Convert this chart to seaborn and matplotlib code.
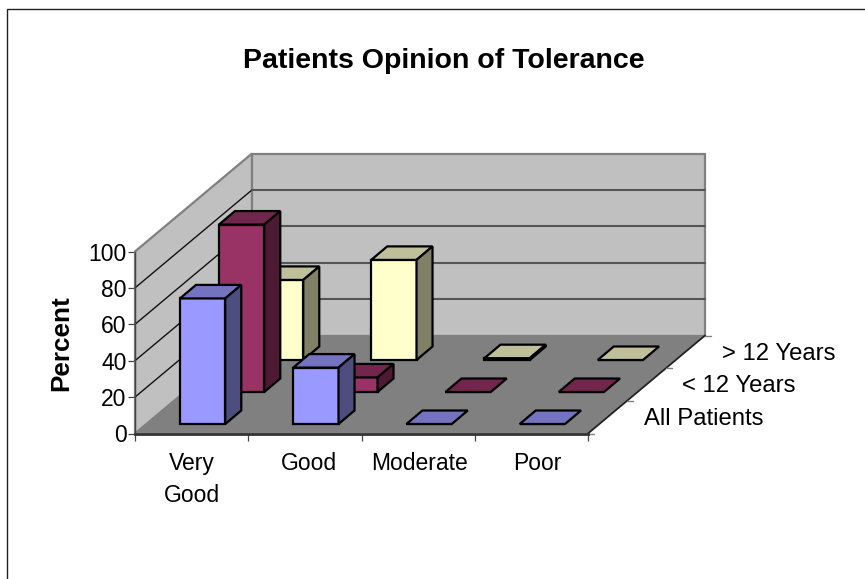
import matplotlib
matplotlib.use("Agg")
import matplotlib.pyplot as plt
from matplotlib.lines import Line2D
from matplotlib.patches import Polygon
import pandas as pd
import seaborn as sns

# values
categories = ["Very\nGood", "Good", "Moderate", "Poor"]
series_names = ["All Patients", "< 12 Years", "> 12 Years"]
all_patients = [69, 31, 0, 0]
under_12 = [92, 8, 0, 0]
over_12 = [44, 55, 1, 0]
value_ticks = [0, 20, 40, 60, 80, 100]

front_colors = ["#9999FF", "#993366", "#FFFFCC"]
top_colors = ["#7373BF", "#73264D", "#BFBF99"]
side_colors = ["#4D4D80", "#4D1933", "#808066"]

W, H = 865, 579
# front plane of the chart box, in pixels
BOX_LEFT, BOX_WIDTH, BOX_FLOOR, BOX_HEIGHT = 135, 453, 433.5, 182
DEPTH_X, DEPTH_Y = 117, 98
CAT_PX = BOX_WIDTH / 4
VAL_PX = BOX_HEIGHT / 100
EDGE_LW = 1.6


def px_rect(left, floor_y, width, height):
    return [left / W, 1 - floor_y / H, width / W, height / H]


def draw_box(ax):
    dx = DEPTH_X / CAT_PX
    dy = DEPTH_Y / VAL_PX
    ax.set_xlim(0, 4)
    ax.set_ylim(0, 100)

    ax.add_patch(Polygon([(0, 0), (dx, dy), (dx, dy + 100), (0, 100)], fc="#C0C0C0", ec="#808080", lw=1.6, clip_on=False))
    ax.add_patch(Polygon([(dx, dy), (4 + dx, dy), (4 + dx, dy + 100), (dx, dy + 100)], fc="#C0C0C0", ec="#808080", lw=1.6, clip_on=False))
    ax.add_patch(Polygon([(0, 0), (4, 0), (4 + dx, dy), (dx, dy)], fc="#808080", ec="none", clip_on=False))
    # right edge of the floor
    ax.plot([4, 4 + dx], [0, dy], color="#222222", lw=1.3, clip_on=False)

    for v in value_ticks[1:-1]:
        ax.plot([0, dx], [v, v + dy], color="#111111", lw=1.0, clip_on=False)
        ax.plot([dx, 4 + dx], [v + dy, v + dy], color="#555555", lw=1.5, clip_on=False)

    # depth axis ticks and labels
    for i in range(4):
        f = i / 3
        ax.plot([4 + dx * f, 4 + dx * f + 6 / CAT_PX], [dy * f, dy * f], color="#808080", lw=1.0, clip_on=False)
    for i, name in enumerate(series_names):
        f = (i + 0.5) / 3
        ax.text(4 + dx * f + 36 / CAT_PX, dy * f - 2 / VAL_PX, name, fontsize=17.2, va="center", ha="left", clip_on=False)

    ax.set_yticks(value_ticks)
    ax.set_xticks(range(5))
    ax.set_xticklabels([])
    # the labels sit a little right of the category centres
    ax.set_xticks([0.5, 1.54, 2.51, 3.55], labels=categories, minor=True)
    ax.tick_params(axis="x", which="major", length=5, width=0.9, color="#444444", bottom=True)
    ax.tick_params(axis="x", which="minor", length=0, pad=13, labelsize=16.5)
    ax.tick_params(axis="y", length=5, width=0.9, color="#444444", left=True, pad=1, labelsize=16.5)
    ax.set_ylabel("Percent", fontsize=18.8, fontweight="bold")
    ax.yaxis.set_label_coords(-0.137, 0.495)
    for lab in ax.get_xticklabels(minor=True):
        lab.set_linespacing(1.55)

    sns.despine(ax=ax, top=True, right=True)
    ax.spines["left"].set_color("#444444")
    ax.spines["left"].set_linewidth(1.0)
    ax.spines["bottom"].set_color("#333333")
    ax.spines["bottom"].set_linewidth(2.0)
    ax.patch.set_alpha(0)


def draw_series(fig, idx, values):
    # every series gets its own axes, slid back along the depth direction
    left = 146 + idx * 39
    floor_y = 424 - idx * 32
    ax = fig.add_axes(px_rect(left, floor_y, BOX_WIDTH, BOX_HEIGHT), zorder=4 - idx)
    df = pd.DataFrame({"category": categories, "value": values})
    sns.barplot(data=df, x="category", y="value", ax=ax, color=front_colors[idx], saturation=1,
                width=0.4, edgecolor="black", linewidth=EDGE_LW)
    ax.set_xlim(-0.5, 3.5)
    ax.set_ylim(0, 100)
    ax.axis("off")

    sx = 16 / CAT_PX
    sy = 13.5 / VAL_PX
    for bar in list(ax.patches):
        x0 = bar.get_x()
        x1 = x0 + bar.get_width()
        h = bar.get_height()
        bar.set_clip_on(False)
        ax.add_patch(Polygon([(x0, h), (x1, h), (x1 + sx, h + sy), (x0 + sx, h + sy)],
                             fc=top_colors[idx], ec="black", lw=EDGE_LW, clip_on=False, joinstyle="miter"))
        if h > 0:
            ax.add_patch(Polygon([(x1, 0), (x1 + sx, sy), (x1 + sx, h + sy), (x1, h)],
                                 fc=side_colors[idx], ec="black", lw=EDGE_LW, clip_on=False, joinstyle="miter"))


sns.set_theme(style="white")
plt.rcParams["font.family"] = ["Liberation Sans", "DejaVu Sans"]
plt.rcParams["text.color"] = "black"
plt.rcParams["axes.labelcolor"] = "black"
plt.rcParams["xtick.color"] = "black"
plt.rcParams["ytick.color"] = "black"

fig = plt.figure(figsize=(W / 100, H / 100), dpi=100, facecolor="white")
base = fig.add_axes(px_rect(BOX_LEFT, BOX_FLOOR, BOX_WIDTH, BOX_HEIGHT), zorder=1)
draw_box(base)

for idx, vals in enumerate([all_patients, under_12, over_12]):
    draw_series(fig, idx, vals)

fig.text(444 / W, 1 - 61 / H, "Patients Opinion of Tolerance", fontsize=20.5, fontweight="bold", ha="center", va="center")

# chart border, only left and top show in the crop
fig.add_artist(Line2D([7.5 / W, 7.5 / W, 1], [0, 1 - 8.5 / H, 1 - 8.5 / H], color="#222222", lw=1.0))

fig.savefig("out.png", dpi=100)
